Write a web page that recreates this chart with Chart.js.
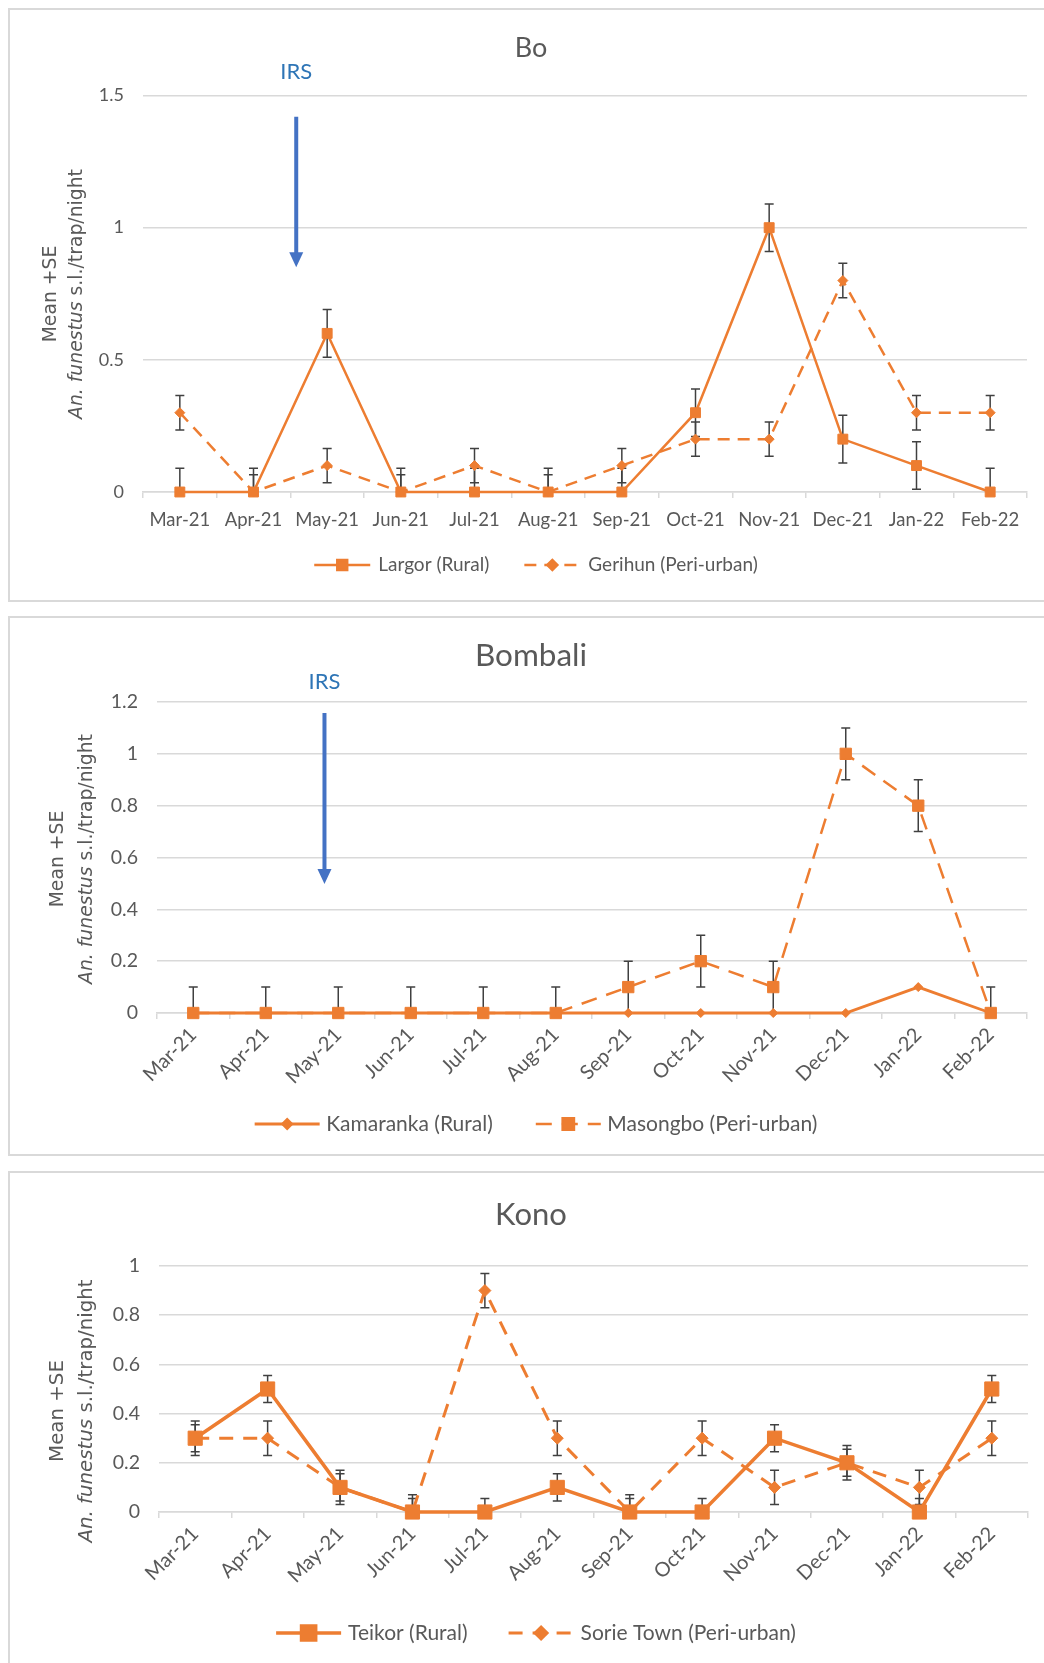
<!DOCTYPE html>
<html>
<head>
<meta charset="utf-8">
<script src="https://cdn.jsdelivr.net/npm/chart.js@4.4.1/dist/chart.umd.min.js"></script>
<style>
  body { margin: 0; background: #fff; width: 1044px; height: 1663px; overflow: hidden; position: relative; }
  .panel { position: absolute; left: 8px; border: 2px solid #d9d9d9; background: #fff; }
  .panel canvas { display: block; }
</style>
</head>
<body>
<div class="panel" style="top:8px"><canvas id="boChart" width="1052" height="590"></canvas></div>
<div class="panel" style="top:616px"><canvas id="bombaliChart" width="1052" height="536"></canvas></div>
<div class="panel" style="top:1171px"><canvas id="konoChart" width="1052" height="500"></canvas></div>
<script>
let months = ['Mar-21', 'Apr-21', 'May-21', 'Jun-21', 'Jul-21', 'Aug-21', 'Sep-21', 'Oct-21', 'Nov-21', 'Dec-21', 'Jan-22', 'Feb-22']

// Bo
let boLargor = [0, 0, 0.6, 0, 0, 0, 0, 0.3, 1, 0.2, 0.1, 0]
let boLargorSE = [0.09, 0.09, 0.09, 0.09, 0.09, 0.09, 0.09, 0.09, 0.09, 0.09, 0.09, 0.09]
let boGerihun = [0.3, 0, 0.1, 0, 0.1, 0, 0.1, 0.2, 0.2, 0.8, 0.3, 0.3]
let boGerihunSE = [0.065, 0.065, 0.065, 0.065, 0.065, 0.065, 0.065, 0.065, 0.065, 0.065, 0.065, 0.065]
let boYTicks = [0, 0.5, 1, 1.5]
let boYLabels = ['0', '0.5', '1', '1.5']

// Bombali
let bombaliKamaranka = [0, 0, 0, 0, 0, 0, 0, 0, 0, 0, 0.1, 0]
let bombaliMasongbo = [0, 0, 0, 0, 0, 0, 0.1, 0.2, 0.1, 1, 0.8, 0]
let bombaliMasongboSE = [0.1, 0.1, 0.1, 0.1, 0.1, 0.1, 0.1, 0.1, 0.1, 0.1, 0.1, 0.1]
let bombaliYTicks = [0, 0.2, 0.4, 0.6, 0.8, 1, 1.2]
let bombaliYLabels = ['0', '0.2', '0.4', '0.6', '0.8', '1', '1.2']

// Kono
let konoTeikor = [0.3, 0.5, 0.1, 0, 0, 0.1, 0, 0, 0.3, 0.2, 0, 0.5]
let konoTeikorSE = [0.055, 0.055, 0.055, 0.055, 0.055, 0.055, 0.055, 0.055, 0.055, 0.055, 0.055, 0.055]
let konoSorie = [0.3, 0.3, 0.1, 0, 0.9, 0.3, 0, 0.3, 0.1, 0.2, 0.1, 0.3]
let konoSorieSE = [0.07, 0.07, 0.07, 0.07, 0.07, 0.07, 0.07, 0.07, 0.07, 0.07, 0.07, 0.07]
let konoYTicks = [0, 0.2, 0.4, 0.6, 0.8, 1]
let konoYLabels = ['0', '0.2', '0.4', '0.6', '0.8', '1']

const orange = '#ED7D31'
const grey = '#595959'
const gridGrey = '#d9d9d9'

// error bars drawn through the scales, clipped to the plot area like excel does
let errorBars = {
    id: 'errorBars',
    beforeDatasetsDraw(chart) {
        let ctx = chart.ctx
        let area = chart.chartArea
        let xs = chart.scales.x, ys = chart.scales.y
        ctx.save()
        ctx.beginPath()
        ctx.rect(area.left, area.top - 1, area.right - area.left, area.bottom - area.top + 1)
        ctx.clip()
        ctx.strokeStyle = '#404040'
        ctx.lineWidth = 1.5
        chart.data.datasets.forEach(ds => {
            if (!ds.se) return
            ds.data.forEach((v, i) => {
                let e = ds.se[i]
                if (!e) return
                let px = xs.getPixelForValue(i)
                let hi = ys.getPixelForValue(v + e)
                let lo = ys.getPixelForValue(v - e)
                ctx.beginPath()
                ctx.moveTo(px, hi); ctx.lineTo(px, lo)
                ctx.moveTo(px - 4.5, hi); ctx.lineTo(px + 4.5, hi)
                ctx.moveTo(px - 4.5, lo); ctx.lineTo(px + 4.5, lo)
                ctx.stroke()
            })
        })
        ctx.restore()
    }
}

// title, axis title, IRS arrow and the excel style legend
let decor = {
    id: 'decor',
    afterDraw(chart, args, o) {
        let ctx = chart.ctx
        let xs = chart.scales.x, ys = chart.scales.y
        ctx.save()

        ctx.fillStyle = grey
        ctx.textAlign = 'center'
        ctx.textBaseline = 'middle'
        ctx.font = o.titleSize + 'px Lato'
        ctx.fillText(o.title, o.centerX - 5, o.titleY)

        // two line y axis title, first words of the 2nd line in italic
        let fs = o.yTitleSize
        ctx.save()
        ctx.translate(o.yTitleX[0], o.yTitleY)
        ctx.rotate(-Math.PI / 2)
        ctx.font = fs + 'px "DejaVu Sans"'
        ctx.fillText('Mean +SE', 0, 0)
        ctx.restore()

        ctx.save()
        ctx.translate(o.yTitleX[1], o.yTitleY)
        ctx.rotate(-Math.PI / 2)
        ctx.textAlign = 'left'
        let a = 'An. funestus', b = ' s.l./trap/night'
        ctx.font = 'italic ' + fs + 'px "DejaVu Sans"'
        let wa = ctx.measureText(a).width
        ctx.font = fs + 'px "DejaVu Sans"'
        let wb = ctx.measureText(b).width
        let start = -(wa + wb) / 2
        ctx.font = 'italic ' + fs + 'px "DejaVu Sans"'
        ctx.fillText(a, start, 0)
        ctx.font = fs + 'px "DejaVu Sans"'
        ctx.fillText(b, start + wa, 0)
        ctx.restore()

        if (o.irs) {
            let ax = xs.getPixelForValue(o.irs.at)
            let y1 = ys.getPixelForValue(o.irs.from)
            let y2 = ys.getPixelForValue(o.irs.to)
            ctx.strokeStyle = '#4472C4'
            ctx.fillStyle = '#4472C4'
            ctx.lineWidth = 4
            ctx.beginPath()
            ctx.moveTo(ax, y1); ctx.lineTo(ax, y2 - 12)
            ctx.stroke()
            ctx.beginPath()
            ctx.moveTo(ax - 7, y2 - 15); ctx.lineTo(ax + 7, y2 - 15); ctx.lineTo(ax, y2)
            ctx.closePath()
            ctx.fill()
            ctx.fillStyle = '#2E75B6'
            ctx.font = '22px Lato'
            ctx.textAlign = 'center'
            ctx.fillText('IRS', ax, o.irs.textY)
        }

        // legend
        let lg = o.legend
        ctx.font = lg.size + 'px Lato'
        let items = chart.data.datasets.map(ds => ({ ds, w: ctx.measureText(ds.label).width }))
        let total = items.reduce((s, it) => s + lg.sample + lg.gap + it.w, 0) + lg.between * (items.length - 1)
        let x = o.centerX - total / 2
        let y = lg.y
        items.forEach(it => {
            let ds = it.ds
            ctx.strokeStyle = orange
            ctx.fillStyle = orange
            ctx.lineWidth = ds.borderWidth
            ctx.setLineDash(ds.borderDash || [])
            ctx.beginPath()
            ctx.moveTo(x, y); ctx.lineTo(x + lg.sample, y)
            ctx.stroke()
            ctx.setLineDash([])
            Chart.helpers.drawPoint(ctx, { pointStyle: ds.pointStyle, radius: ds.pointRadius, rotation: 0, borderWidth: 1 }, x + lg.sample / 2, y)
            ctx.fillStyle = grey
            ctx.textAlign = 'left'
            ctx.fillText(ds.label, x + lg.sample + lg.gap, y)
            x += lg.sample + lg.gap + it.w + lg.between
        })
        ctx.restore()
    }
}

function makeChart(id, datasets, yTicks, yLabels, box, decorOpts) {
    let canvas = document.getElementById(id)
    let w = canvas.width, h = canvas.height
    datasets.forEach(ds => { ds.clip = false })
    return new Chart(canvas.getContext('2d'), {
        type: 'line',
        data: { labels: months, datasets: datasets },
        plugins: [errorBars, decor],
        options: {
            responsive: false,
            animation: false,
            devicePixelRatio: 1,
            layout: { padding: { left: 0, top: box.top, right: w - box.right, bottom: 0 } },
            plugins: { legend: { display: false }, tooltip: { enabled: false }, decor: decorOpts },
            scales: {
                x: {
                    offset: true,
                    grid: { display: true, drawOnChartArea: false, drawTicks: true, tickLength: 6, color: gridGrey, offset: true, lineWidth: 1.5 },
                    border: { display: true, color: gridGrey, width: 1.5 },
                    ticks: {
                        color: grey, font: { family: 'Lato', size: box.xFont }, autoSkip: false,
                        maxRotation: box.rotate, minRotation: box.rotate, padding: box.rotate ? 4 : 11
                    },
                    afterFit(scale) { scale.height = h - box.bottom }
                },
                y: {
                    min: yTicks[0],
                    max: yTicks[yTicks.length - 1],
                    afterBuildTicks(scale) { scale.ticks = yTicks.map(v => ({ value: v })) },
                    grid: { color: gridGrey, drawTicks: false, lineWidth: 1.5 },
                    border: { display: false },
                    ticks: { color: grey, font: { family: 'Lato', size: box.yFont }, padding: 19, callback: (v, i) => yLabels[i] },
                    afterFit(scale) { scale.width = box.left }
                }
            }
        }
    })
}

makeChart('boChart', [
    {
        label: 'Largor (Rural)', data: boLargor, se: boLargorSE,
        borderColor: orange, backgroundColor: orange, borderWidth: 2.5,
        pointStyle: 'rect', pointRadius: 7, pointBorderWidth: 1, pointBackgroundColor: orange, pointBorderColor: orange
    },
    {
        label: 'Gerihun (Peri-urban)', data: boGerihun, se: boGerihunSE,
        borderColor: orange, backgroundColor: orange, borderWidth: 2.5, borderDash: [12, 8],
        pointStyle: 'rectRot', pointRadius: 5, pointBorderWidth: 1, pointBackgroundColor: orange, pointBorderColor: orange
    }
], boYTicks, boYLabels,
    { left: 133, right: 1017, top: 85.5, bottom: 482, rotate: 0, xFont: 18.5, yFont: 18 },
    { title: 'Bo', titleSize: 27, titleY: 38, centerX: 526, yTitleX: [41, 67.5], yTitleY: 284, yTitleSize: 18.8,
      legend: { y: 555, size: 19, sample: 56, gap: 8, between: 35 },
      irs: { at: 1.58, from: 1.42, to: 0.85, textY: 62 } })

makeChart('bombaliChart', [
    {
        label: 'Kamaranka (Rural)', data: bombaliKamaranka, order: 1,
        borderColor: orange, backgroundColor: orange, borderWidth: 2.8,
        pointStyle: 'rectRot', pointRadius: 4.5, pointBorderWidth: 1, pointBackgroundColor: orange, pointBorderColor: orange
    },
    {
        label: 'Masongbo (Peri-urban)', data: bombaliMasongbo, se: bombaliMasongboSE, order: 0,
        borderColor: orange, backgroundColor: orange, borderWidth: 2.5, borderDash: [16, 10],
        pointStyle: 'rect', pointRadius: 8, pointBorderWidth: 1, pointBackgroundColor: orange, pointBorderColor: orange
    }
], bombaliYTicks, bombaliYLabels,
    { left: 147, right: 1017, top: 84, bottom: 395, rotate: 45, xFont: 20, yFont: 19.5 },
    { title: 'Bombali', titleSize: 31.5, titleY: 38, centerX: 526, yTitleX: [48, 77], yTitleY: 241, yTitleSize: 18.8,
      legend: { y: 506, size: 21, sample: 65, gap: 6.5, between: 43 },
      irs: { at: 1.81, from: 1.158, to: 0.498, textY: 64 } })

makeChart('konoChart', [
    {
        label: 'Teikor (Rural)', data: konoTeikor, se: konoTeikorSE,
        borderColor: orange, backgroundColor: orange, borderWidth: 3.5,
        pointStyle: 'rect', pointRadius: 10, pointBorderWidth: 1, pointBackgroundColor: orange, pointBorderColor: orange
    },
    {
        label: 'Sorie Town (Peri-urban)', data: konoSorie, se: konoSorieSE,
        borderColor: orange, backgroundColor: orange, borderWidth: 3, borderDash: [14, 10],
        pointStyle: 'rectRot', pointRadius: 6, pointBorderWidth: 1, pointBackgroundColor: orange, pointBorderColor: orange
    }
], konoYTicks, konoYLabels,
    { left: 149, right: 1018, top: 93, bottom: 339, rotate: 45, xFont: 20, yFont: 19.5 },
    { title: 'Kono', titleSize: 31, titleY: 42, centerX: 526, yTitleX: [48, 77], yTitleY: 238, yTitleSize: 19.8,
      legend: { y: 460, size: 21, sample: 65, gap: 7, between: 41 } })
</script>
</body>
</html>
